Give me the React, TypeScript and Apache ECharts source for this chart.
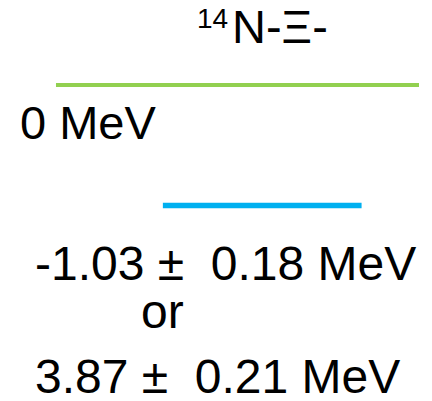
import React, { useEffect, useRef } from "react";
import * as echarts from "echarts";

// Energy levels (MeV) and their horizontal extents (arbitrary x units 0..100)
const levelNames = ["threshold", "bound"];
const levelEnergies = [0, -1.03];
const levelStarts = [12.96, 37.7];
const levelEnds = [96.99, 83.7];
const levelColors = ["#92D050", "#00B0F0"];
const levelWidths = [4, 5.5];

// Texts
const titleSup = "14";
const titleMain = "N-Ξ-";
const zeroLabel = "0 MeV";
const resultLines = ["-1.03 ±  0.18 MeV", "or", "3.87 ±  0.21 MeV"];

const FONT = "Liberation Sans";

export default function App() {
  const ref = useRef<HTMLDivElement>(null);
  useEffect(() => {
    document.body.style.margin = "0";
    if (!ref.current) return;
    const chart = echarts.init(ref.current, null, { renderer: "svg" });
    const series = levelNames.map((name, i) => ({
      name,
      type: "line",
      silent: true,
      symbol: "none",
      lineStyle: { color: levelColors[i], width: levelWidths[i], cap: "butt" },
      data: [
        [levelStarts[i], levelEnergies[i]],
        [levelEnds[i], levelEnergies[i]],
      ],
    }));
    const txt = (text: string, x: number, y: number, size: number) => ({
      type: "text",
      x,
      y,
      silent: true,
      style: {
        text,
        fill: "#000",
        fontFamily: FONT,
        fontSize: size,
        lineHeight: Math.round(size * 0.8),
        textAlign: "left",
        textVerticalAlign: "middle",
      },
    });
    chart.setOption({
      animation: false,
      backgroundColor: "#fff",
      grid: { left: 0, right: 0, top: 0, bottom: 0 },
      xAxis: { type: "value", min: 0, max: 100, show: false },
      yAxis: { type: "value", min: -2.701, max: 0.7266, show: false },
      series,
      graphic: [
        txt(titleSup, 197, 18.5, 28),
        txt(titleMain, 232, 26.5, 47),
        txt(zeroLabel, 20, 122.5, 47),
        txt(resultLines[0], 35, 263.5, 48),
        txt(resultLines[1], 141, 311, 48),
        txt(resultLines[2], 35, 376.5, 48),
      ],
    });
    return () => chart.dispose();
  }, []);
  return <div ref={ref} style={{ width: 432, height: 401 }} />;
}
